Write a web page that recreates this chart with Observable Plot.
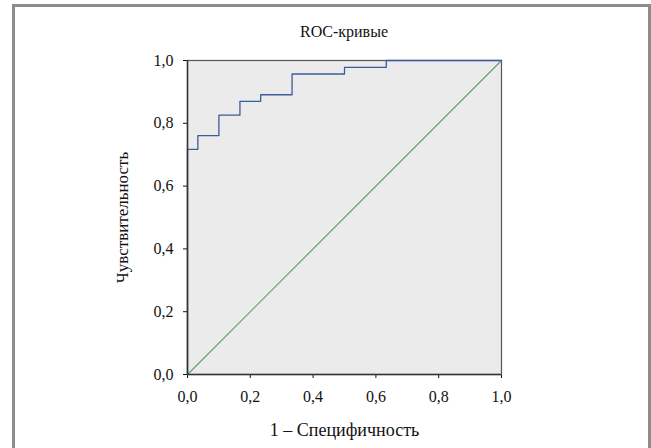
<!DOCTYPE html>
<html>
<head>
<meta charset="utf-8">
<script src="https://cdn.jsdelivr.net/npm/d3@7"></script>
<script src="https://cdn.jsdelivr.net/npm/@observablehq/plot@0.6"></script>
<style>
  html, body { margin: 0; padding: 0; background: #fff; overflow: hidden; }
  #wrap { position: relative; width: 651px; height: 448px; overflow: hidden; font-family: "Liberation Serif", "Times New Roman", serif; }
  #border { position: absolute; left: 12px; top: 4px; width: 633px; height: 470px; border: 3px solid #8c8c8c; border-bottom: none; }
  #title { position: absolute; left: 187px; width: 314px; top: 24px; text-align: center; font-size: 16px; line-height: 16px; color: #111; }
  #chart { position: absolute; left: 0; top: 0; }
  #chart g[aria-label="x-axis label"] text { font-size: 18px; }
  #chart g[aria-label="y-axis label"] text { font-size: 17px; }
</style>
</head>
<body>
<div id="wrap">
  <div id="border"></div>
  <div id="title">ROC-кривые</div>
  <div id="chart"></div>
</div>
<script>
// ROC curve (1 - specificity, sensitivity)
const rocFpr = [0, 0, 0.033, 0.1, 0.167, 0.233, 0.333, 0.5, 0.633, 1.0];
const rocTpr = [0, 0.717, 0.761, 0.826, 0.870, 0.891, 0.957, 0.978, 1.0, 1.0];
// reference (chance) line
const refFpr = [0, 1];
const refTpr = [0, 1];
const tickValues = [0, 0.2, 0.4, 0.6, 0.8, 1.0];
const xLabel = "1 – Специфичность";
const yLabel = "Чувствительность";

const roc = rocFpr.map((x, i) => ({x, y: rocTpr[i]}));
const ref = refFpr.map((x, i) => ({x, y: refTpr[i]}));
const fmt = d => d.toFixed(1).replace(".", ",");

const chart = Plot.plot({
  width: 651,
  height: 448,
  marginLeft: 187,
  marginRight: 150,
  marginTop: 60,
  marginBottom: 74,
  style: {background: "transparent", fontFamily: "\"Liberation Serif\", \"Times New Roman\", serif", fontSize: "16px", color: "#111"},
  x: {domain: [0, 1], ticks: tickValues, tickFormat: fmt, label: xLabel, labelAnchor: "center", labelOffset: 61, labelArrow: "none", tickSize: 4, tickPadding: 12},
  y: {domain: [0, 1], ticks: tickValues, tickFormat: fmt, label: yLabel, labelAnchor: "center", labelOffset: 72, labelArrow: "none", tickSize: 4, tickPadding: 10},
  marks: [
    Plot.frame({fill: "#ebebeb", stroke: "#555", strokeWidth: 1.2}),
    Plot.line(ref, {x: "x", y: "y", stroke: "#5aa55f", strokeWidth: 1.2}),
    Plot.line(roc, {x: "x", y: "y", curve: "step-after", stroke: "#3b5c9e", strokeWidth: 1.3}),
    Plot.ruleX([0], {stroke: "#333", strokeWidth: 1.5}),
    Plot.ruleY([0], {stroke: "#333", strokeWidth: 1.5})
  ]
});
document.getElementById("chart").appendChild(chart);
</script>
</body>
</html>
